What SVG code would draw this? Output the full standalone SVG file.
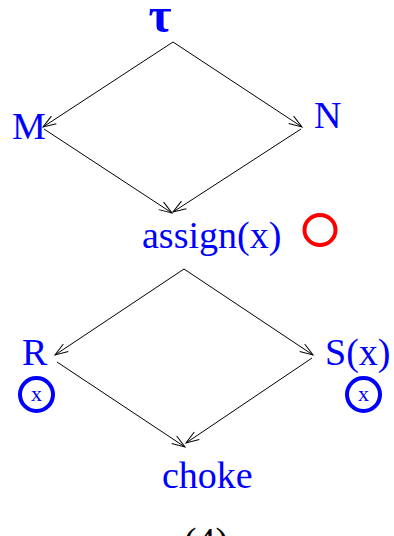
<svg xmlns="http://www.w3.org/2000/svg" width="394" height="536" viewBox="0 0 394 536">
<style>
.lbl{font-family:"Liberation Serif","Times New Roman",serif;font-size:38px;fill:#0000ff}
.edge{stroke:#000;stroke-width:1;fill:none;marker-end:url(#arr)}
.ring{fill:none;stroke:#0000ff;stroke-width:4}
.sm{font-family:"Liberation Serif","Times New Roman",serif;font-size:22px;fill:#0000ff;text-anchor:middle}
</style>
<defs>
<marker id="arr" markerUnits="userSpaceOnUse" markerWidth="16" markerHeight="12" viewBox="-14 -6 16 12" refX="0" refY="0" orient="auto">
<path d="M-13,-4.5 L0,0 L-13,4.5" fill="none" stroke="#000" stroke-width="1"/>
</marker>
</defs>
<rect width="394" height="536" fill="#fff"/>
<g id="connectors">
<line class="edge" x1="173" y1="42" x2="43" y2="127"/>
<line class="edge" x1="173" y1="42" x2="302" y2="127"/>
<line class="edge" x1="44" y1="129" x2="172" y2="213"/>
<line class="edge" x1="301" y1="129" x2="173" y2="212"/>
<line class="edge" x1="184" y1="269" x2="55" y2="355"/>
<line class="edge" x1="184" y1="269" x2="313" y2="355"/>
<line class="edge" x1="57" y1="362" x2="185" y2="447"/>
<line class="edge" x1="312" y1="358" x2="186" y2="443"/>
</g>
<g id="tau"><text class="lbl" x="160" y="32" text-anchor="middle" style="font-size:50px;font-weight:bold">τ</text></g>
<g id="M"><text class="lbl" x="12" y="139">M</text></g>
<g id="N"><text class="lbl" x="314" y="128">N</text></g>
<g id="assign"><text class="lbl" x="142" y="248">assign(x)</text>
<ellipse cx="320" cy="230" rx="15.5" ry="15" fill="none" stroke="#ff0000" stroke-width="4"/></g>
<g id="R"><text class="lbl" x="22" y="365">R</text>
<circle class="ring" cx="36.5" cy="394.5" r="16.5"/><text class="sm" x="36.5" y="401">x</text></g>
<g id="S"><text class="lbl" x="325" y="365">S(x)</text>
<circle class="ring" cx="363.5" cy="394.5" r="16.5"/><text class="sm" x="363.5" y="401">x</text></g>
<g id="choke"><text class="lbl" x="162" y="488">choke</text></g>
<g id="caption"><text x="206" y="554" text-anchor="middle" style="font-family:'Liberation Serif',serif;font-size:38px;fill:#000">(4)</text></g>
</svg>
